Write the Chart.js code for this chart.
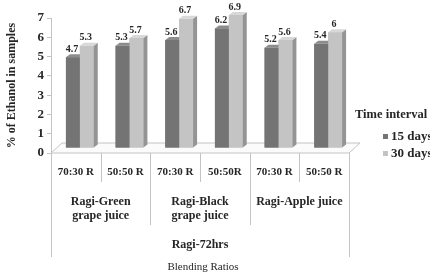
<!DOCTYPE html>
<html>
<head>
<meta charset="utf-8">
<script src="https://cdn.jsdelivr.net/npm/chart.js@4.4.0/dist/chart.umd.min.js"></script>
<style>
  html, body { margin: 0; padding: 0; background: #fff; }
  #wrap { width: 430px; height: 278px; }
</style>
</head>
<body>
<div id="wrap"><canvas id="myChart" width="430" height="278"></canvas></div>
<script>
// data
var categories = ['70:30 R', '50:50 R', '70:30 R', '50:50R', '70:30 R', '50:50 R'];
var groups = [['Ragi-Green', 'grape juice'], ['Ragi-Black', 'grape juice'], ['Ragi-Apple juice']];
var days15 = [4.7, 5.3, 5.6, 6.2, 5.2, 5.4];
var days30 = [5.3, 5.7, 6.7, 6.9, 5.6, 6];
var seriesNames = ['15 days', '30 days'];
var yTicks = [0, 1, 2, 3, 4, 5, 6, 7];

var serif = "'Liberation Serif', 'Times New Roman', serif";
var ink = '#262626';
var lineCol = '#c4c4c4';

var front = ['#747474', '#c4c4c4'];
var side = ['#4c4c4c', '#949494'];
var top_ = ['#8c8c8c', '#d8d8d8'];
var DX = 4, DY = 3;       // bar depth
var SHIFT_X = 4, SHIFT_Y = -5; // bars sit inside the floor

var chart3d = {
    id: 'chart3d',
    beforeDatasetsDraw: function(chart){
        var ctx = chart.ctx, a = chart.chartArea
        ctx.save()
        ctx.beginPath()
        ctx.moveTo(a.left, a.bottom)
        ctx.lineTo(a.right, a.bottom)
        ctx.lineTo(a.right + 11, a.bottom - 10)
        ctx.lineTo(a.left + 11, a.bottom - 10)
        ctx.closePath()
        ctx.fillStyle = '#fbfbfb'
        ctx.fill()
        ctx.strokeStyle = lineCol
        ctx.lineWidth = 1
        ctx.stroke()
        ctx.restore()
        ctx.save()
        ctx.translate(SHIFT_X, SHIFT_Y)
    },
    afterDatasetsDraw: function(chart){
        var ctx = chart.ctx
        // repaint 15 days first, then 30 days so the lighter bar hides the darker side
        chart.data.datasets.forEach(function(ds, di){
            chart.getDatasetMeta(di).data.forEach(function(bar){
                var l = bar.x - bar.width / 2, r = bar.x + bar.width / 2, t = bar.y, b = bar.base
                ctx.fillStyle = front[di]
                ctx.fillRect(l, t, r - l, b - t)
                ctx.fillStyle = side[di]
                ctx.beginPath()
                ctx.moveTo(r, t); ctx.lineTo(r + DX, t - DY); ctx.lineTo(r + DX, b - DY); ctx.lineTo(r, b)
                ctx.closePath(); ctx.fill()
                ctx.fillStyle = top_[di]
                ctx.beginPath()
                ctx.moveTo(l, t); ctx.lineTo(l + DX, t - DY); ctx.lineTo(r + DX, t - DY); ctx.lineTo(r, t)
                ctx.closePath(); ctx.fill()
            })
        })
        ctx.font = 'bold 10px ' + serif
        ctx.fillStyle = ink
        ctx.textAlign = 'center'
        ctx.textBaseline = 'bottom'
        chart.data.datasets.forEach(function(ds, di){
            chart.getDatasetMeta(di).data.forEach(function(bar, i){
                ctx.fillText(String(ds.data[i]), bar.x - 1, bar.y - 3)
            })
        })
        ctx.restore()
    },
    afterDraw: function(chart){
        var ctx = chart.ctx, a = chart.chartArea, xs = chart.scales.x
        var step = (a.right - a.left) / categories.length
        ctx.save()
        ctx.strokeStyle = lineCol
        ctx.lineWidth = 1
        for (var k = 0; k <= categories.length; k++) {
            var x = Math.round(a.left + k * step) + 0.5
            var end = 182
            if (k == 0 || k == categories.length) end = 257
            else if (k % 2 == 0) end = 225
            ctx.beginPath(); ctx.moveTo(x, a.bottom); ctx.lineTo(x, end); ctx.stroke()
        }
        ctx.fillStyle = ink
        ctx.textAlign = 'center'
        ctx.textBaseline = 'middle'
        ctx.font = 'bold 11px ' + serif
        categories.forEach(function(c, i){
            ctx.fillText(c, xs.getPixelForValue(i), 172)
        })
        ctx.font = 'bold 12px ' + serif
        groups.forEach(function(g, gi){
            var cx = (xs.getPixelForValue(gi * 2) + xs.getPixelForValue(gi * 2 + 1)) / 2
            g.forEach(function(line, li){
                ctx.fillText(line, cx, 202 + li * 14)
            })
        })
        ctx.fillText('Ragi-72hrs', (a.left + a.right) / 2, 245)
        ctx.font = '11px ' + serif
        ctx.fillText('Blending Ratios', (a.left + a.right) / 2 + 3, 267)

        // legend
        ctx.textAlign = 'left'
        ctx.font = 'bold 12.5px ' + serif
        ctx.fillText('Time interval', 355, 115)
        ctx.font = 'bold 13px ' + serif
        seriesNames.forEach(function(n, i){
            var y = 137 + i * 17
            ctx.fillStyle = front[i]
            ctx.fillRect(383, y - 3, 5, 5)
            ctx.fillStyle = ink
            ctx.fillText(n, 391, y)
        })
        ctx.restore()
    }
}

var chart = new Chart(document.getElementById('myChart').getContext('2d'), {
    type: 'bar',
    data: {
        labels: categories,
        datasets: [
            { label: seriesNames[0], data: days15, backgroundColor: front[0] },
            { label: seriesNames[1], data: days30, backgroundColor: front[1] }
        ]
    },
    options: {
        responsive: false,
        animation: false,
        events: [],
        categoryPercentage: 0.56,
        barPercentage: 1,
        layout: { padding: { top: 18, bottom: 125, right: 81, left: 5 } },
        plugins: { legend: { display: false }, tooltip: { enabled: false } },
        scales: {
            x: { display: false },
            y: {
                min: 0, max: 7,
                afterFit: function(s){ s.width = 46 },
                afterBuildTicks: function(s){ s.ticks = yTicks.map(function(v){ return { value: v } }) },
                border: { display: true, color: lineCol },
                grid: { drawOnChartArea: false, drawTicks: true, tickLength: 4, color: lineCol },
                ticks: { color: ink, padding: 3, font: { family: serif, size: 13, weight: 'bold' } },
                title: {
                    display: true,
                    text: '% of Ethanol in samples',
                    color: ink,
                    padding: 0,
                    font: { family: serif, size: 12, weight: 'bold' }
                }
            }
        }
    },
    plugins: [chart3d]
})
</script>
</body>
</html>
